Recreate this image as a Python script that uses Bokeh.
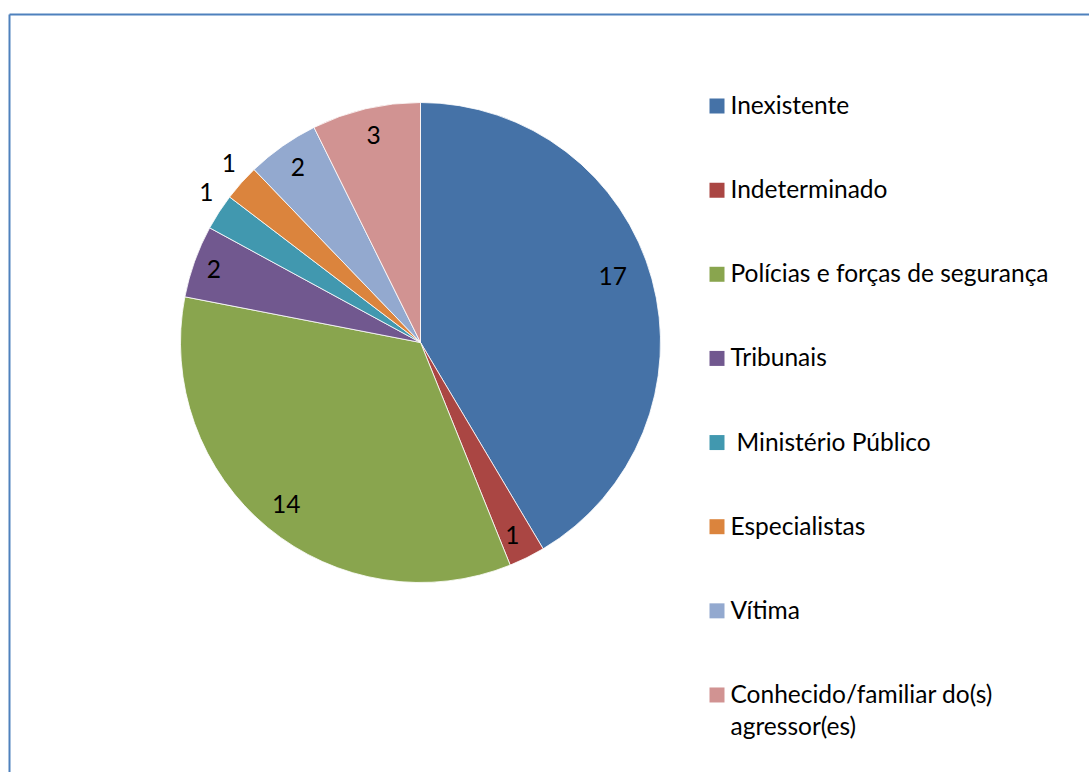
import numpy as np
from bokeh.plotting import figure
from bokeh.models import Range1d, ColumnDataSource
from bokeh.core.properties import value
from bokeh.embed import file_html
from bokeh.resources import INLINE

# ---- data ----
categories = ["Inexistente", "Indeterminado", "Polícias e forças de segurança",
              "Tribunais", " Ministério Público", "Especialistas", "Vítima",
              "Conhecido/familiar do(s)\nagressor(es)"]
counts = [17, 1, 14, 2, 1, 1, 2, 3]
colors = ["#4572A7", "#AA4643", "#89A54E", "#71588F",
          "#4198AF", "#DB843D", "#93A9CF", "#D19392"]

# ---- style / layout ----
FONT = "Lato"
FS = "24.5px"
W, H = 1089, 772
cx, cy, R = 420, -342, 240
label_r = [203, 214, 211, 219, 261, 262, 213, 212]          # px from centre
label_dang = [3.4, -0.9, 0.0, 0.5, -1.9, -1.3, 0.0, -0.4]   # deg tweak
LABEL_DY = 1
LEGEND_DY = 1.5

p = figure(width=W, height=H, output_backend="svg", toolbar_location=None,
           x_range=Range1d(0, W), y_range=Range1d(-H, 0),
           min_border=0)
p.axis.visible = False
p.grid.visible = False
p.outline_line_color = None
p.background_fill_color = "white"
p.border_fill_color = "white"

# frame (chart area border)
p.segment(x0=[9, 9], y0=[-14, -14], x1=[9, 1100], y1=[-800, -14],
          line_color="#4F81BD", line_width=2)

vals = np.array(counts, dtype=float)
frac = vals / vals.sum()
cum = np.concatenate([[0], np.cumsum(frac)])
start = np.pi / 2 - cum[:-1] * 2 * np.pi
end = np.pi / 2 - cum[1:] * 2 * np.pi
mid = (start + end) / 2

src = ColumnDataSource(dict(start=start, end=end, color=colors))
p.wedge(x=cx, y=cy, radius=R, start_angle="start", end_angle="end",
        direction="clock", fill_color="color", line_color="white",
        line_width=0.8, source=src)

# data labels
ang = mid + np.radians(label_dang)
lx = cx + np.array(label_r) * np.cos(ang)
ly = cy + np.array(label_r) * np.sin(ang) + LABEL_DY
p.text(x=lx, y=ly, text=[str(c) for c in counts], text_font=value(FONT),
       text_font_size=FS, text_color="black", text_align="center",
       text_baseline="middle")

# legend
lg_x, lg_y0, lg_dy = 716.5, -105.5, -84.14
sq_x, sq_y, tx, ty, tt = [], [], [], [], []
for i, (cat, col) in enumerate(zip(categories, colors)):
    yc = lg_y0 + i * lg_dy
    sq_x.append(lg_x)
    sq_y.append(yc)
    for j, line in enumerate(cat.split("\n")):
        lead = len(line) - len(line.lstrip())
        tx.append(730 + 6 * lead)
        ty.append(yc + LEGEND_DY - j * 32)
        tt.append(line)
p.scatter(x=sq_x, y=sq_y, marker="square", size=15, fill_color=colors,
          line_color=None)
p.text(x=tx, y=ty, text=tt, text_font=value(FONT), text_font_size=FS,
       text_color="black", text_align="left", text_baseline="middle")

open("out.html", "w").write(file_html(p, INLINE))
